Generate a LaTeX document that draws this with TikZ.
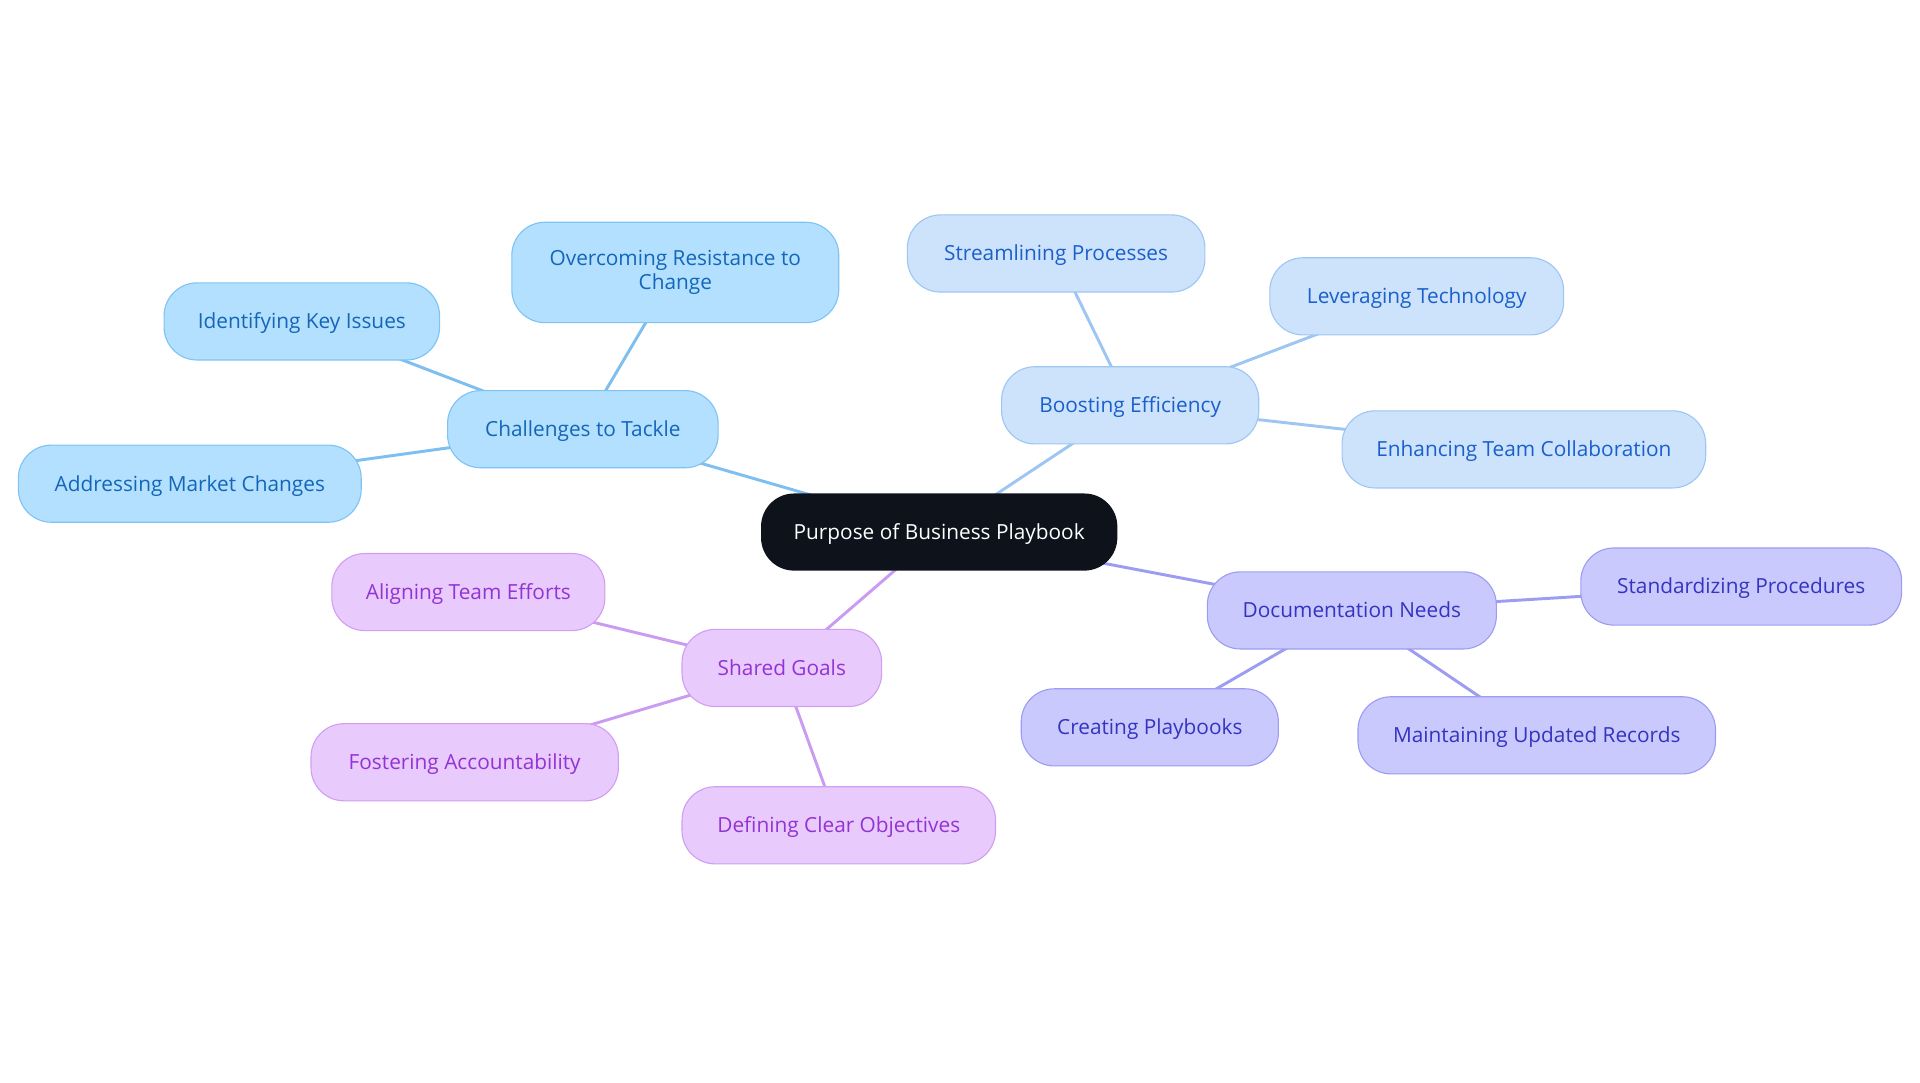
\documentclass[tikz,border=0pt]{standalone}
\usepackage{fontspec}
\setmainfont{Open Sans}
\usetikzlibrary{backgrounds}
\definecolor{afill}{HTML}{B3E0FE}\definecolor{aline}{HTML}{7EC3F3}\definecolor{atext}{HTML}{1366B8}
\definecolor{bfill}{HTML}{CDE3FB}\definecolor{bline}{HTML}{9EC6F2}\definecolor{btext}{HTML}{1A5FCC}
\definecolor{cfill}{HTML}{C9C9FD}\definecolor{cline}{HTML}{9C9CF2}\definecolor{ctext}{HTML}{3434C0}
\definecolor{dfill}{HTML}{E8CAFD}\definecolor{dline}{HTML}{D09EF2}\definecolor{dtext}{HTML}{9333D3}
\definecolor{aedge}{HTML}{7DBFF0}\definecolor{dedge}{HTML}{C99CF2}
\definecolor{rootfill}{HTML}{0D121B}
\begin{document}
\begin{tikzpicture}[x=1pt,y=-1pt,
  box/.style={rounded corners=27pt,minimum height=63pt,inner sep=0pt,line width=0.9pt,
    font=\fontsize{17}{20}\selectfont,align=center,text height=14pt,text depth=2pt},
  ga/.style={box,fill=afill,draw=aline,text=atext},
  gb/.style={box,fill=bfill,draw=bline,text=btext},
  gc/.style={box,fill=cfill,draw=cline,text=ctext},
  gd/.style={box,fill=dfill,draw=dline,text=dtext},
  ea/.style={draw=aedge,line width=2.4pt},
  eb/.style={draw=bline,line width=2.4pt},
  ec/.style={draw=cline,line width=2.4pt},
  ed/.style={draw=dedge,line width=2.4pt}]
\useasboundingbox (0,0) rectangle (1568,884);
\node[box,fill=rootfill,text=white,minimum width=291pt] (root) at (767,434.5) {Purpose of Business Playbook};
\node[ga,minimum width=221pt] (chal) at (476,350.5) {Challenges to Tackle};
\node[ga,minimum width=267pt,minimum height=82pt,text height=,text depth=] (over) at (551.5,222.5) {Overcoming Resistance to\\Change};
\node[ga,minimum width=225pt] (iden) at (246.5,262.5) {Identifying Key Issues};
\node[ga,minimum width=280pt] (addr) at (155,395) {Addressing Market Changes};
\node[gb,minimum width=210pt] (boost) at (923,331) {Boosting Efficiency};
\node[gb,minimum width=243pt] (stre) at (862.5,207) {Streamlining Processes};
\node[gb,minimum width=240pt] (leve) at (1157,242) {Leveraging Technology};
\node[gb,minimum width=297pt] (enha) at (1244.5,367) {Enhancing Team Collaboration};
\node[gc,minimum width=236pt] (docu) at (1104,498.5) {Documentation Needs};
\node[gc,minimum width=262pt] (stan) at (1422,479) {Standardizing Procedures};
\node[gc,minimum width=210pt] (crea) at (939,594) {Creating Playbooks};
\node[gc,minimum width=292pt] (main) at (1255,600.5) {Maintaining Updated Records};
\node[gd,minimum width=163pt] (shar) at (638.5,545.5) {Shared Goals};
\node[gd,minimum width=223pt] (alig) at (382.5,483.5) {Aligning Team Efforts};
\node[gd,minimum width=251pt] (fost) at (379.5,622.5) {Fostering Accountability};
\node[gd,minimum width=256pt] (defi) at (685,674) {Defining Clear Objectives};
\begin{scope}[on background layer]
\draw[ea] (root.center) -- (chal.center);
\draw[ea] (chal.center) -- (over.center);
\draw[ea] (chal.center) -- (iden.center);
\draw[ea] (chal.center) -- (addr.center);
\draw[eb] (root.center) -- (boost.center);
\draw[eb] (boost.center) -- (stre.center);
\draw[eb] (boost.center) -- (leve.center);
\draw[eb] (boost.center) -- (enha.center);
\draw[ec] (root.center) -- (docu.center);
\draw[ec] (docu.center) -- (stan.center);
\draw[ec] (docu.center) -- (crea.center);
\draw[ec] (docu.center) -- (main.center);
\draw[ed] (root.center) -- (shar.center);
\draw[ed] (shar.center) -- (alig.center);
\draw[ed] (shar.center) -- (fost.center);
\draw[ed] (shar.center) -- (defi.center);
\end{scope}
\end{tikzpicture}
\end{document}
